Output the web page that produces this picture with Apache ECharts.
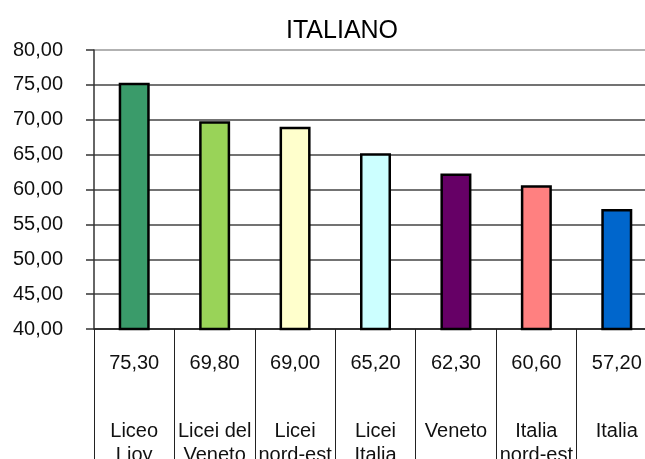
<!DOCTYPE html>
<html>
<head>
<meta charset="utf-8">
<script src="https://cdn.jsdelivr.net/npm/echarts@6/dist/echarts.min.js"></script>
<style>
html,body{margin:0;padding:0;background:#fff;overflow:hidden;}
#chart{width:645px;height:459px;}
</style>
</head>
<body>
<div id="chart"></div>
<script>
var categories = ['Liceo\nLioy', 'Licei del\nVeneto', 'Licei\nnord-est', 'Licei\nItalia', 'Veneto', 'Italia\nnord-est', 'Italia'];
var values = [75.30, 69.80, 69.00, 65.20, 62.30, 60.60, 57.20];
var barColors = ['#3A9B6A', '#99D358', '#FFFFCC', '#CCFFFF', '#660066', '#FF8080', '#0066CC'];
var yMin = 40, yMax = 80, yStep = 5;
var titleText = 'ITALIANO';

function fmt(v) { return v.toFixed(2).replace('.', ','); }

var font = 'Arial, "Liberation Sans", sans-serif';
var chart = echarts.init(document.getElementById('chart'), null, {renderer: 'canvas'});

chart.setOption({
  animation: false,
  backgroundColor: '#ffffff',
  title: {
    text: titleText,
    left: 281,
    top: 14,
    textStyle: {fontFamily: font, fontSize: 25, fontWeight: 'normal', color: '#000'}
  },
  grid: {left: 94, right: -12, top: 50, bottom: 130, containLabel: false, outerBoundsMode: 'none'},
  xAxis: [{
    type: 'category',
    data: categories,
    position: 'bottom',
    axisLine: {show: true, lineStyle: {color: '#222', width: 1.5}},
    axisTick: {show: true, length: 135, lineStyle: {color: '#222', width: 1}},
    axisLabel: {
      interval: 0,
      margin: 24,
      hideOverlap: false,
      fontFamily: font, fontSize: 20, color: '#111',
      formatter: function (v, i) { return fmt(values[i]); }
    },
    splitLine: {show: false}
  }, {
    type: 'category',
    data: categories,
    position: 'bottom',
    gridIndex: 0,
    axisLine: {show: false},
    axisTick: {show: false},
    axisLabel: {
      interval: 0,
      margin: 90,
      hideOverlap: false,
      fontFamily: font, fontSize: 20, color: '#111', lineHeight: 24
    },
    splitLine: {show: false}
  }],
  yAxis: {
    type: 'value',
    min: yMin, max: yMax, interval: yStep,
    axisLine: {show: true, lineStyle: {color: '#333', width: 1.5}},
    axisTick: {show: true, length: 8, lineStyle: {color: '#333', width: 1.5}},
    axisLabel: {
      margin: 31,
      fontFamily: font, fontSize: 20, color: '#111',
      formatter: function (v) { return fmt(v); }
    },
    splitLine: {show: true, lineStyle: {color: ['#333','#444','#444','#444','#444','#444','#444','#444','#999'], width: 1.5}}
  },
  series: [{
    type: 'bar',
    xAxisIndex: 0,
    data: values.map(function (v, i) {
      return {value: v, itemStyle: {color: barColors[i]}};
    }),
    barWidth: 31,
    itemStyle: {borderColor: '#000', borderWidth: 2.5}
  }]
});
</script>
</body>
</html>
